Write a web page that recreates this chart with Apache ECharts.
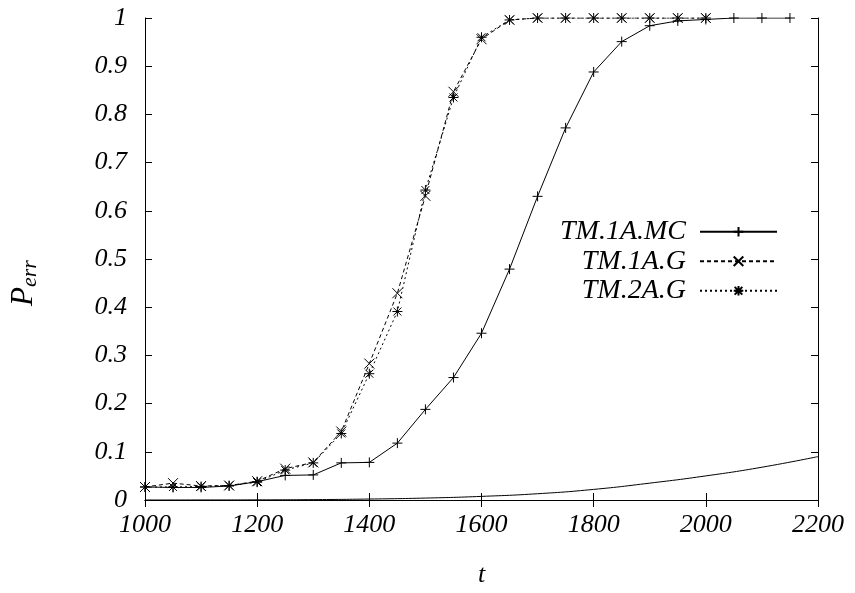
<!DOCTYPE html>
<html>
<head>
<meta charset="utf-8">
<script src="https://cdn.jsdelivr.net/npm/echarts@6/dist/echarts.min.js"></script>
<style>
  html, body { margin: 0; padding: 0; background: #fff; overflow: hidden; }
  #chart { width: 855px; height: 593px; }
</style>
</head>
<body>
<div id="chart"></div>
<script>
// Time points (t) at which each estimate was taken
const tSim = [1000, 1050, 1100, 1150, 1200, 1250, 1300, 1350, 1400, 1450, 1500, 1550, 1600,
              1650, 1700, 1750, 1800, 1850, 1900, 1950, 2000, 2050, 2100, 2150];
const tGauss = [1000, 1050, 1100, 1150, 1200, 1250, 1300, 1350, 1400, 1450, 1500, 1550, 1600,
                1650, 1700, 1750, 1800, 1850, 1900, 1950, 2000];
const tRef = [1000, 1100, 1200, 1300, 1400, 1500, 1600, 1700, 1800, 1900, 2000, 2100, 2200];

// Error probability estimates
const tm1aMC = [0.027, 0.026, 0.026, 0.029, 0.038, 0.051, 0.052, 0.077, 0.078, 0.118, 0.188, 0.254, 0.346,
                0.479, 0.630, 0.772, 0.888, 0.951, 0.984, 0.994, 0.997, 1.0, 1.0, 1.0];
const tm1aG = [0.027, 0.035, 0.029, 0.030, 0.039, 0.065, 0.078, 0.142, 0.283, 0.429, 0.631, 0.847, 0.956,
               0.996, 1.0, 1.0, 1.0, 1.0, 1.0, 1.0, 1.0];
const tm2aG = [0.027, 0.027, 0.028, 0.030, 0.037, 0.062, 0.077, 0.138, 0.262, 0.391, 0.643, 0.835, 0.960,
               0.996, 1.0, 1.0, 1.0, 1.0, 1.0, 1.0, 1.0];
// Reference curve without markers
const refCurve = [0.0, 0.0001, 0.0003, 0.0008, 0.002, 0.004, 0.0075, 0.013, 0.022, 0.035, 0.050, 0.068, 0.090];

const xTicks = { min: 1000, max: 2200, interval: 200 };
const yTicks = { min: 0, max: 1, interval: 0.1 };

const FONT = '"Liberation Serif", "Times New Roman", serif';

const plusPath = 'path://M5,0 L5,10 M0,5 L10,5';
const crossPath = 'path://M0,0 L10,10 M10,0 L0,10';
const starPath = 'path://M5,0 L5,10 M0,5 L10,5 M1,1 L9,9 M9,1 L1,9';

const pairs = (xs, ys) => xs.map((x, i) => [x, ys[i]]);

const axisCommon = {
  axisLine: { show: true, lineStyle: { color: '#000', width: 1 } },
  axisTick: { show: true, inside: true, length: 7, lineStyle: { color: '#000', width: 1 } },
  splitLine: { show: false }
};

const chart = echarts.init(document.getElementById('chart'), null, { renderer: 'canvas' });

function markerSeries(name, xs, ys, symbol, dash) {
  return {
    name: name,
    type: 'line',
    data: pairs(xs, ys),
    symbol: symbol,
    symbolSize: 10,
    showSymbol: true,
    lineStyle: { color: '#000', width: 1, type: dash },
    itemStyle: { color: 'rgba(0,0,0,0)', borderColor: '#000', borderWidth: 1 },
    emphasis: { disabled: true },
    animation: false
  };
}

chart.setOption({
  animation: false,
  backgroundColor: '#fff',
  grid: { left: 145, right: 37, top: 18, bottom: 87, containLabel: false },
  xAxis: [
    Object.assign({
      type: 'value', position: 'bottom',
      min: xTicks.min, max: xTicks.max, interval: xTicks.interval,
      axisLabel: { color: '#000', fontFamily: FONT, fontStyle: 'italic', fontSize: 26, margin: 12,
                   formatter: v => String(v) },
      name: 't', nameLocation: 'middle', nameGap: 62,
      nameTextStyle: { color: '#000', fontFamily: FONT, fontStyle: 'italic', fontSize: 26 }
    }, axisCommon),
    Object.assign({
      type: 'value', position: 'top',
      min: xTicks.min, max: xTicks.max, interval: xTicks.interval,
      axisLabel: { show: false }
    }, axisCommon)
  ],
  yAxis: [
    Object.assign({
      type: 'value', position: 'left',
      min: yTicks.min, max: yTicks.max, interval: yTicks.interval,
      axisLabel: { color: '#000', fontFamily: FONT, fontStyle: 'italic', fontSize: 26, margin: 18 }
    }, axisCommon),
    Object.assign({
      type: 'value', position: 'right',
      min: yTicks.min, max: yTicks.max, interval: yTicks.interval,
      axisLabel: { show: false }
    }, axisCommon)
  ],
  legend: {
    data: ['TM.1A.MC', 'TM.1A.G', 'TM.2A.G'],
    orient: 'vertical',
    align: 'right',
    right: 72,
    top: 212,
    itemWidth: 77,
    itemHeight: 12,
    itemGap: 0,
    selectedMode: false,
    textStyle: { color: '#000', fontFamily: FONT, fontStyle: 'italic', fontSize: 28, lineHeight: 29.5, padding: [0, 9, 0, 0] }
  },
  series: [
    markerSeries('TM.1A.MC', tSim, tm1aMC, plusPath, 'solid'),
    markerSeries('TM.1A.G', tGauss, tm1aG, crossPath, [4, 3]),
    markerSeries('TM.2A.G', tGauss, tm2aG, starPath, [2, 3]),
    {
      name: 'reference',
      type: 'line',
      data: pairs(tRef, refCurve),
      showSymbol: false,
      symbol: 'none',
      smooth: true,
      lineStyle: { color: '#000', width: 1 },
      emphasis: { disabled: true },
      animation: false
    }
  ],
  graphic: [
    {
      type: 'text',
      x: 24, y: 283,
      rotation: Math.PI / 2,
      style: {
        text: '{p|P}{s|err}',
        textAlign: 'center',
        textVerticalAlign: 'middle',
        rich: {
          p: { fontFamily: FONT, fontStyle: 'italic', fontSize: 31, fill: '#000', color: '#000' },
          s: { fontFamily: FONT, fontStyle: 'italic', fontSize: 22, fill: '#000', color: '#000', padding: [13, 0, 0, 0] }
        }
      }
    }
  ]
});
</script>
</body>
</html>
